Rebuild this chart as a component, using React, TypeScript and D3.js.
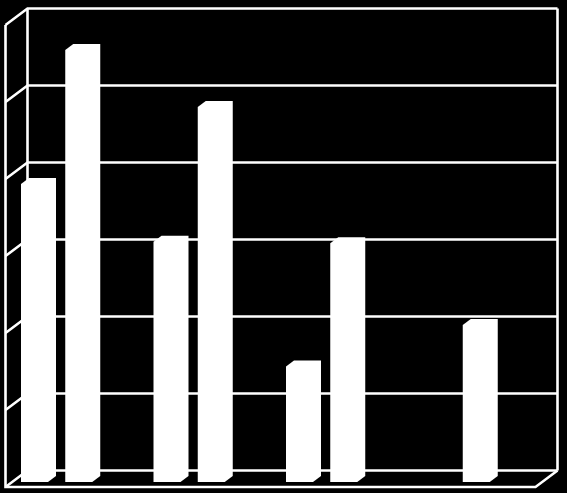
import React, { useEffect } from 'react';
// d3 v7
import * as d3 from 'd3';

const categories = ['A', 'B', 'C', 'D'];
const seriesNames = ['first', 'second'];
const firstSeries = [3.87, 3.12, 1.5, 0];
const secondSeries = [5.61, 4.87, 3.1, 2.04];
const valueTicks = [0, 1, 2, 3, 4, 5, 6];

const WIDTH = 567;
const HEIGHT = 493;

// 3D box: back wall corners, and the shift from back wall to front edge
const wall = { left: 27.5, right: 557.5, top: 8.5, bottom: 470.5 };
const depth = { dx: -22, dy: 16.5 };
// bars stand inside the floor, and have a small depth of their own
const barInset = { dy: 11.5 };
const barDepth = { dx: 8, dy: 6 };
const barWidth = 27;

const App: React.FC = () => {
  // the page has an 8px body margin by default
  useEffect(() => {
    document.body.style.margin = '0';
    document.body.style.background = '#000';
  }, []);

  const yScale = d3.scaleLinear().domain([0, 6]).range([wall.bottom, wall.top]);

  const xGroup = d3
    .scaleBand<string>()
    .domain(categories)
    .range([wall.left + depth.dx, wall.right + depth.dx]);

  const xBar = d3.scaleBand<string>().domain(seriesNames).range([15.5, 104]);

  const line = d3.line();

  const bars = categories.flatMap((c, i) =>
    [firstSeries[i], secondSeries[i]].map((value, j) => ({
      key: `${c}-${j}`,
      x: (xGroup(c) || 0) + (xBar(seriesNames[j]) || 0),
      value
    }))
  );

  return (
    <svg
      width={WIDTH}
      height={HEIGHT}
      style={{ position: 'absolute', left: 0, top: 0, display: 'block', background: '#000' }}
      role="img"
      aria-label="3D column chart"
    >
      <g fill="none" stroke="#fff" strokeWidth={2.6}>
        {/* gridlines on the back wall and their continuation on the left wall */}
        {valueTicks.map(t => (
          <path
            key={t}
            d={
              line([
                [wall.left + depth.dx, yScale(t) + depth.dy],
                [wall.left, yScale(t)],
                [wall.right, yScale(t)]
              ]) || ''
            }
          />
        ))}
        <path d={line([[wall.left, wall.top], [wall.left, wall.bottom]]) || ''} />
        <path d={line([[wall.right, wall.top], [wall.right, wall.bottom]]) || ''} />
        <path
          d={
            line([
              [wall.left + depth.dx, yScale(6) + depth.dy],
              [wall.left + depth.dx, yScale(0) + depth.dy],
              [wall.right + depth.dx, yScale(0) + depth.dy],
              [wall.right, yScale(0)]
            ]) || ''
          }
        />
      </g>
      <g fill="#fff">
        {bars
          .filter(b => b.value > 0)
          .map(b => {
            const base = yScale(0) + barInset.dy;
            const top = yScale(b.value) + barInset.dy;
            const x1 = b.x + barWidth;
            return (
              <path
                key={b.key}
                d={
                  line([
                    [b.x, base],
                    [b.x, top],
                    [b.x + barDepth.dx, top - barDepth.dy],
                    [x1 + barDepth.dx, top - barDepth.dy],
                    [x1 + barDepth.dx, base - barDepth.dy],
                    [x1, base]
                  ]) + 'Z'
                }
              />
            );
          })}
      </g>
    </svg>
  );
};

export default App;
